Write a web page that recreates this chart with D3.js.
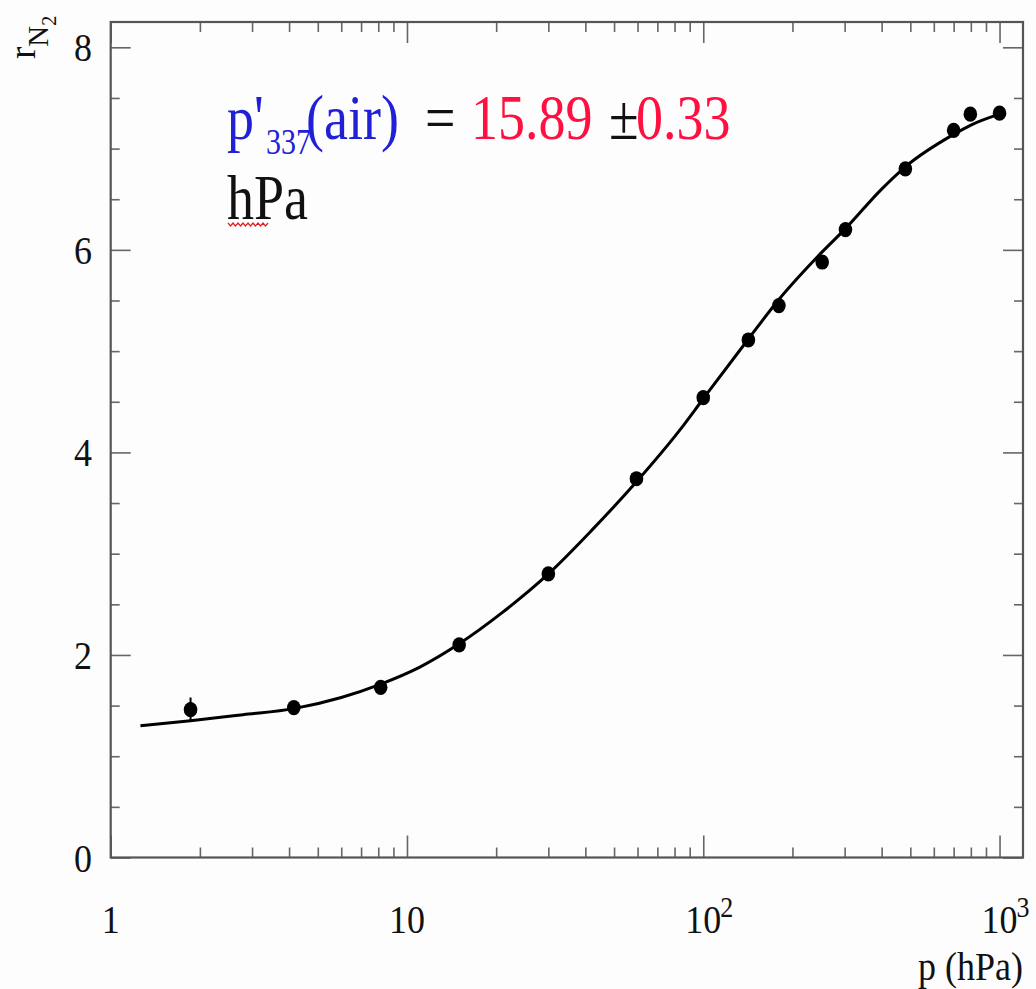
<!DOCTYPE html>
<html>
<head>
<meta charset="utf-8">
<script src="https://cdn.jsdelivr.net/npm/d3@7"></script>
<style>
  body { margin: 0; background: #fdfdfd; }
  svg { display: block; }
  text { font-family: "Liberation Serif", "Times New Roman", serif; }
</style>
</head>
<body>
<div id="chart"></div>
<script>
// measured points (pressure in hPa, ratio r_N2)
const pressure = [1.86, 4.15, 8.15, 15.0, 30.0, 59.5, 100, 142, 180, 252, 302, 481, 700, 797, 1000];
const ratio    = [1.46, 1.48, 1.68, 2.10, 2.80, 3.74, 4.54, 5.11, 5.45, 5.88, 6.20, 6.80, 7.18, 7.34, 7.35];
const ratioErr = [0.12, 0.04, 0.04, 0.04, 0.04, 0.04, 0.04, 0.04, 0.04, 0.04, 0.04, 0.04, 0.04, 0.04, 0.04];

// fitted curve
const fitP = [1.26, 1.86, 2.8, 4.15, 6, 8.12, 11.05, 15, 21, 30, 42, 59.5, 83.3, 100, 142, 180, 252, 302, 400, 481, 700, 797, 1000];
const fitR = [1.30, 1.35, 1.41, 1.47, 1.58, 1.71, 1.88, 2.11, 2.42, 2.80, 3.23, 3.71, 4.22, 4.53, 5.12, 5.51, 5.98, 6.21, 6.60, 6.82, 7.14, 7.23, 7.34];

// tick labels
const xTickLabels = [
  { v: 1, base: "1", exp: "" },
  { v: 10, base: "10", exp: "" },
  { v: 100, base: "10", exp: "2" },
  { v: 1000, base: "10", exp: "3" }
];
const yTickLabels = [0, 2, 4, 6, 8];

const W = 1036, H = 989;
const frameL = 110.7, frameR = 1023, frameT = 22, frameB = 857.5;

const svg = d3.select('#chart').append('svg')
  .attr('width', W)
  .attr('height', H);

const x = d3.scaleLog().domain([1, 1200]).range([frameL, frameR]);
const y = d3.scaleLinear().domain([0, 8.25]).range([frameB, frameT]);

const xMajor = [1, 10, 100, 1000];
const xMinor = [];
[1, 10, 100].forEach(d => { for (let m = 2; m <= 9; m++) xMinor.push(d * m); });
const yMajor = [0, 2, 4, 6, 8];
const yMinor = d3.range(0.5, 8.25, 0.5).filter(v => v % 2 !== 0);

const tickColor = '#666';

function drawAxis(axis, tr) {
  const g = svg.append('g').attr('transform', tr).call(axis);
  g.select('.domain').remove();
  g.selectAll('line').attr('stroke', tickColor).attr('stroke-width', 1.6);
  g.selectAll('text').remove();
}

// ticks, all pointing inside the frame
drawAxis(d3.axisBottom(x).tickValues(xMinor).tickSizeInner(-10).tickSizeOuter(0).tickFormat(''), `translate(0,${frameB})`);
drawAxis(d3.axisBottom(x).tickValues(xMajor).tickSizeInner(-22).tickSizeOuter(0).tickFormat(''), `translate(0,${frameB})`);
drawAxis(d3.axisTop(x).tickValues(xMinor).tickSizeInner(-10).tickSizeOuter(0).tickFormat(''), `translate(0,${frameT})`);
drawAxis(d3.axisTop(x).tickValues(xMajor).tickSizeInner(-21).tickSizeOuter(0).tickFormat(''), `translate(0,${frameT})`);
drawAxis(d3.axisLeft(y).tickValues(yMinor).tickSizeInner(-9).tickSizeOuter(0).tickFormat(''), `translate(${frameL},0)`);
drawAxis(d3.axisLeft(y).tickValues(yMajor).tickSizeInner(-20).tickSizeOuter(0).tickFormat(''), `translate(${frameL},0)`);
drawAxis(d3.axisRight(y).tickValues(yMinor).tickSizeInner(-9).tickSizeOuter(0).tickFormat(''), `translate(${frameR},0)`);
drawAxis(d3.axisRight(y).tickValues(yMajor).tickSizeInner(-20).tickSizeOuter(0).tickFormat(''), `translate(${frameR},0)`);

// frame
svg.append('rect')
  .attr('x', frameL).attr('y', frameT)
  .attr('width', frameR - frameL).attr('height', frameB - frameT)
  .attr('fill', 'none')
  .attr('stroke', '#555')
  .attr('stroke-width', 2.2);

// y tick labels
svg.selectAll('.ylab')
  .data(yTickLabels)
  .enter().append('text')
  .attr('class', 'ylab')
  .attr('transform', d => `translate(92,${y(d) + 14}) scale(1,1.12)`)
  .attr('text-anchor', 'end')
  .attr('font-size', 36)
  .attr('fill', '#111')
  .text(d => d);

// x tick labels (base centred on the tick, exponent appended)
const xl = svg.selectAll('.xlab')
  .data(xTickLabels)
  .enter().append('g')
  .attr('class', 'xlab');
xl.append('text')
  .attr('transform', d => `translate(${x(d.v)},933) scale(1,1.12)`)
  .attr('text-anchor', 'middle')
  .attr('font-size', 36)
  .attr('fill', '#111')
  .text(d => d.base);
xl.append('text')
  .attr('transform', d => `translate(${x(d.v) + 17},917) scale(1,1.12)`)
  .attr('font-size', 26)
  .attr('fill', '#111')
  .text(d => d.exp);

// axis titles
svg.append('text')
  .attr('transform', `translate(1023,980) scale(1,1.12)`)
  .attr('text-anchor', 'end')
  .attr('font-size', 36)
  .attr('fill', '#111')
  .text('p (hPa)');

const yt = svg.append('text')
  .attr('transform', 'translate(35,59) rotate(-90)')
  .attr('fill', '#111');
yt.append('tspan').attr('font-size', 37).text('r');
yt.append('tspan').attr('font-size', 29).attr('dy', 13).text('N');
yt.append('tspan').attr('font-size', 20).attr('dy', 8).text('2');

// fitted curve
const fitData = fitP.map((p, i) => ({ p, r: fitR[i] }));
svg.append('path')
  .datum(fitData)
  .attr('fill', 'none')
  .attr('stroke', '#000')
  .attr('stroke-width', 3)
  .attr('d', d3.line()
    .x(d => x(d.p))
    .y(d => y(d.r))
    .curve(d3.curveMonotoneX));

// data points with error bars
const pts = pressure.map((p, i) => ({ p, r: ratio[i], e: ratioErr[i] }));
svg.selectAll('.err')
  .data(pts)
  .enter().append('line')
  .attr('class', 'err')
  .attr('x1', d => x(d.p)).attr('x2', d => x(d.p))
  .attr('y1', d => y(d.r - d.e)).attr('y2', d => y(d.r + d.e))
  .attr('stroke', '#000')
  .attr('stroke-width', 2);
svg.selectAll('.pt')
  .data(pts)
  .enter().append('ellipse')
  .attr('class', 'pt')
  .attr('cx', d => x(d.p))
  .attr('cy', d => y(d.r))
  .attr('rx', 6.8)
  .attr('ry', 7.6)
  .attr('fill', '#000');

// annotation
const blue = '#2020d6', red = '#ff1040';
function label(txt, xPos, yPos, size, color) {
  svg.append('text')
    .attr('transform', `translate(${xPos},${yPos}) scale(1,1.18)`)
    .attr('font-size', size)
    .attr('fill', color)
    .text(txt);
}
label("p'", 227, 139, 54, blue);
label('337', 266, 154, 30, blue);
label('(air)', 306, 139, 54, blue);
label('=', 425, 139, 54, '#111');
label('15.89', 471, 139, 54, red);
label('\u00b1', 609, 139, 54, '#111');
label('0.33', 636, 139, 54, red);
label('hPa', 227, 219, 54, '#111');

// spell-check squiggle under "hPa"
let sq = 'M228,223';
for (let i = 0; i < 16; i++) sq += ` l2.5,${i % 2 ? -3 : 3}`;
svg.append('path')
  .attr('d', sq)
  .attr('fill', 'none')
  .attr('stroke', '#e02020')
  .attr('stroke-width', 1.2);
</script>
</body>
</html>
